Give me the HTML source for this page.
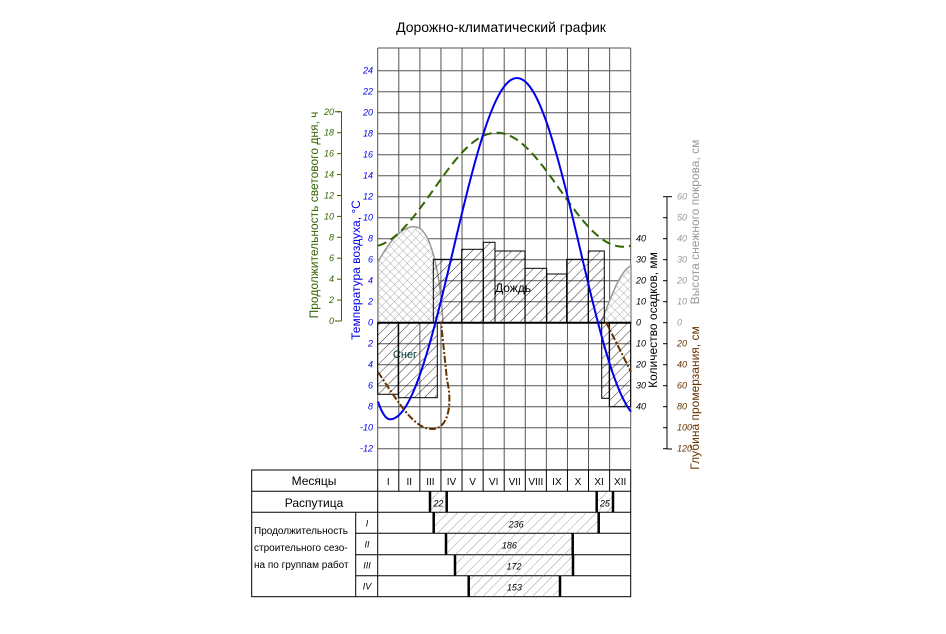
<!DOCTYPE html>
<html><head><meta charset="utf-8"><style>
html,body{margin:0;padding:0;background:#fff;}
svg{display:block;font-family:"Liberation Sans",sans-serif;}
</style></head><body>
<svg id="s" width="946" height="634" viewBox="0 0 946 634" xmlns="http://www.w3.org/2000/svg">
<defs>
<pattern id="h" width="7" height="7" patternUnits="userSpaceOnUse" patternTransform="rotate(45)">
<line x1="0" y1="0" x2="0" y2="7" stroke="#000" stroke-width="0.8"/></pattern>
<pattern id="hg" width="7" height="7" patternUnits="userSpaceOnUse" patternTransform="rotate(45)">
<line x1="0" y1="0" x2="0" y2="7" stroke="#777" stroke-width="0.7"/></pattern>
<pattern id="x" width="6" height="6" patternUnits="userSpaceOnUse" patternTransform="rotate(45)">
<rect width="6" height="6" fill="#fff"/>
<line x1="0" y1="0" x2="0" y2="6" stroke="#999" stroke-width="0.8"/>
<line x1="0" y1="0" x2="6" y2="0" stroke="#999" stroke-width="0.8"/></pattern>
</defs>
<text x="501" y="32" font-size="14" text-anchor="middle">Дорожно-климатический график</text>
<g id="grid" stroke="#555" stroke-width="1"></g>
<path d="M378,322.7 L378,262 C392,236 405,226 415,226.7 C430,227 440,270 443,322.7 Z" fill="url(#x)" stroke="#999" stroke-width="1.5"/>
<path d="M601,322.7 C610,300 620,270 631,266 L631,322.7 Z" fill="url(#x)" stroke="#999" stroke-width="1.5"/>
<g id="bars" stroke="#000" stroke-width="1" fill="url(#h)"></g>
<line x1="378" y1="322.7" x2="631" y2="322.7" stroke="#000" stroke-width="2"/>
<path id="day" fill="none" stroke="#336600" stroke-width="2" stroke-dasharray="9,5"/>
<path id="temp" fill="none" stroke="#0000ee" stroke-width="2"/>
<path d="M378,372 C400,405 415,430 433,429 C450,428 452,400 447,380 L441,322" fill="none" stroke="#663300" stroke-width="2" stroke-dasharray="7,2,2,2"/>
<path d="M606,322 L631,372" fill="none" stroke="#663300" stroke-width="2" stroke-dasharray="7,2,2,2"/>
<text x="405" y="358" font-size="11" fill="#003333" text-anchor="middle">Снег</text>
<text x="513" y="292" font-size="12" text-anchor="middle">Дождь</text>
<g id="lbl" font-size="9" font-style="italic"></g>
<line x1="341.5" y1="111.7" x2="341.5" y2="321" stroke="#336600"/>
<line x1="335" y1="111.7" x2="341.5" y2="111.7" stroke="#336600"/>
<line x1="335" y1="321" x2="341.5" y2="321" stroke="#336600"/>
<line x1="667" y1="196.7" x2="667" y2="449" stroke="#000"/>
<line x1="667" y1="196.7" x2="672" y2="196.7" stroke="#000"/>
<line x1="667" y1="449" x2="672" y2="449" stroke="#000"/>
<text transform="translate(318,215) rotate(-90)" font-size="12" fill="#336600" text-anchor="middle">Продолжительность светового дня, ч</text>
<text transform="translate(360,270) rotate(-90)" font-size="12" fill="#0000ee" text-anchor="middle">Температура воздуха, °С</text>
<text transform="translate(657,320) rotate(-90)" font-size="12" fill="#000" text-anchor="middle">Количество осадков, мм</text>
<text transform="translate(699,222) rotate(-90)" font-size="12" fill="#999" text-anchor="middle">Высота снежного покрова, см</text>
<text transform="translate(699,398) rotate(-90)" font-size="12" fill="#663300" text-anchor="middle">Глубина промерзания, см</text>
<g id="tbl" stroke="#000" stroke-width="1" fill="none"></g>
<g id="tt" font-size="11"></g>
</svg>
<script>
var NS="http://www.w3.org/2000/svg";
function el(p,t,a,txt){var e=document.createElementNS(NS,t);for(var k in a)e.setAttribute(k,a[k]);if(txt!=null)e.textContent=txt;document.getElementById(p).appendChild(e);return e;}
var L=377.7,R=630.7,T=48,B=470,cw=(R-L)/12;
for(var i=0;i<=12;i++)el("grid","line",{x1:L+i*cw,y1:T,x2:L+i*cw,y2:B});
for(var y=322.7;y>T+3;y-=21)el("grid","line",{x1:L,y1:y,x2:R,y2:y});
for(var y=322.7+21;y<B;y+=21)el("grid","line",{x1:L,y1:y,x2:R,y2:y});
el("grid","line",{x1:L,y1:T,x2:R,y2:T});el("grid","line",{x1:L,y1:B,x2:R,y2:B});
var rb=[[433.3,461.7,259.3],[461.7,483.3,249.3],[483.3,495,242.3],[495,525,251],[525,546.7,268.3],[546.7,566.7,274],[566.7,588.3,259.3],[588.3,604.3,251]];
rb.forEach(function(b){el("bars","rect",{x:b[0],y:b[2],width:b[1]-b[0],height:322.7-b[2]});});
var sb=[[377.7,398.3,394.3],[398.3,437.3,397.7],[601.7,609.3,398.3],[609.3,630.7,406.7]];
sb.forEach(function(b){el("bars","rect",{x:b[0],y:322.7,width:b[1]-b[0],height:b[2]-322.7});});
var d="",t="";
for(var x=378;x<=631;x+=1){
 var D=12.55+5.45*Math.cos(2*Math.PI*(x-496.7)/253);
 d+=(x==378?"M":"L")+x+","+(321-10.46*D).toFixed(1);
 var Tm;
 if(x<=517)Tm=-9.2+32.5*(1-Math.cos(Math.PI*(x-390)/127))/2;
 else Tm=-9.2+32.5*(1+Math.cos(Math.PI*(x-517)/126))/2;
 if(x<390)Tm=-9.2+1.7*Math.pow((390-x)/12,2);
 t+=(x==378?"M":"L")+x+","+(322.7-10.5*Tm).toFixed(1);
}
document.getElementById("day").setAttribute("d",d);
document.getElementById("temp").setAttribute("d",t);
var tl=["24","22","20","18","16","14","12","10","8","6","4","2","0","2","4","6","8","-10","-12"];
tl.forEach(function(s,i){el("lbl","text",{x:373,y:70.7+21*i+3,"text-anchor":"end",fill:"#0000ee"},s);});
for(var v=0;v<=20;v+=2){var yy=321-10.46*v;el("lbl","text",{x:334,y:yy+3,"text-anchor":"end",fill:"#336600"},v);el("lbl","line",{x1:337,y1:yy,x2:341.5,y2:yy,stroke:"#336600"});}
[40,30,20,10,0,10,20,30,40].forEach(function(s,i){el("lbl","text",{x:636,y:238.7+21*i+3,fill:"#000"},s);});
for(var i=0;i<=6;i++){var yy=322.7-21*i;el("lbl","text",{x:677,y:yy+3,fill:"#999"},i*10);el("lbl","line",{x1:663,y1:yy,x2:667,y2:yy,stroke:"#000"});}
for(var i=1;i<=6;i++){var yy=322.7+21*i;el("lbl","text",{x:677,y:yy+3,fill:"#663300"},i*20);el("lbl","line",{x1:663,y1:yy,x2:667,y2:yy,stroke:"#000"});}
var ry=[470,491.3,512.3,533.3,554.7,575.7,596.7];
el("tbl","rect",{x:251.7,y:470,width:R-251.7,height:596.7-470});
ry.forEach(function(y,i){if(i>0&&i<6)el("tbl","line",{x1:(i<3?251.7:355.7),y1:y,x2:R,y2:y});});
el("tbl","line",{x1:355.7,y1:512.3,x2:355.7,y2:596.7});
el("tbl","line",{x1:L,y1:470,x2:L,y2:596.7});
for(var i=1;i<12;i++)el("tbl","line",{x1:L+i*cw,y1:470,x2:L+i*cw,y2:491.3});
var ms=["I","II","III","IV","V","VI","VII","VIII","IX","X","XI","XII"];
ms.forEach(function(m,i){el("tt","text",{x:L+cw*i+cw/2,y:485,"text-anchor":"middle","font-size":"10"},m);});
el("tt","text",{x:314,y:485,"text-anchor":"middle","font-size":"12"},"Месяцы");
el("tt","text",{x:314,y:507,"text-anchor":"middle","font-size":"12"},"Распутица");
["Продолжительность","строительного сезо-","на по группам работ"].forEach(function(s,i){el("tt","text",{x:254,y:534+i*17,"font-size":"10"},s);});
["I","II","III","IV"].forEach(function(s,i){el("tt","text",{x:367,y:ry[i+2]+14,"text-anchor":"middle","font-size":"9","font-style":"italic"},s);});
function hb(x1,x2,y1,y2,s){el("tbl","rect",{x:x1,y:y1,width:x2-x1,height:y2-y1,fill:"url(#hg)",stroke:"none"});
 el("tbl","line",{x1:x1,y1:y1,x2:x1,y2:y2,"stroke-width":2.5});el("tbl","line",{x1:x2,y1:y1,x2:x2,y2:y2,"stroke-width":2.5});
 el("tt","text",{x:(x1+x2)/2,y:y2-6,"text-anchor":"middle","font-size":"9","font-style":"italic"},s);}
hb(430,446.7,491.3,512.3,"22");hb(596.7,613,491.3,512.3,"25");
hb(433.7,598.7,512.3,533.3,"236");hb(446,572.7,533.3,554.7,"186");hb(455,573,554.7,575.7,"172");hb(468.7,560,575.7,596.7,"153");
</script>
</body></html>
